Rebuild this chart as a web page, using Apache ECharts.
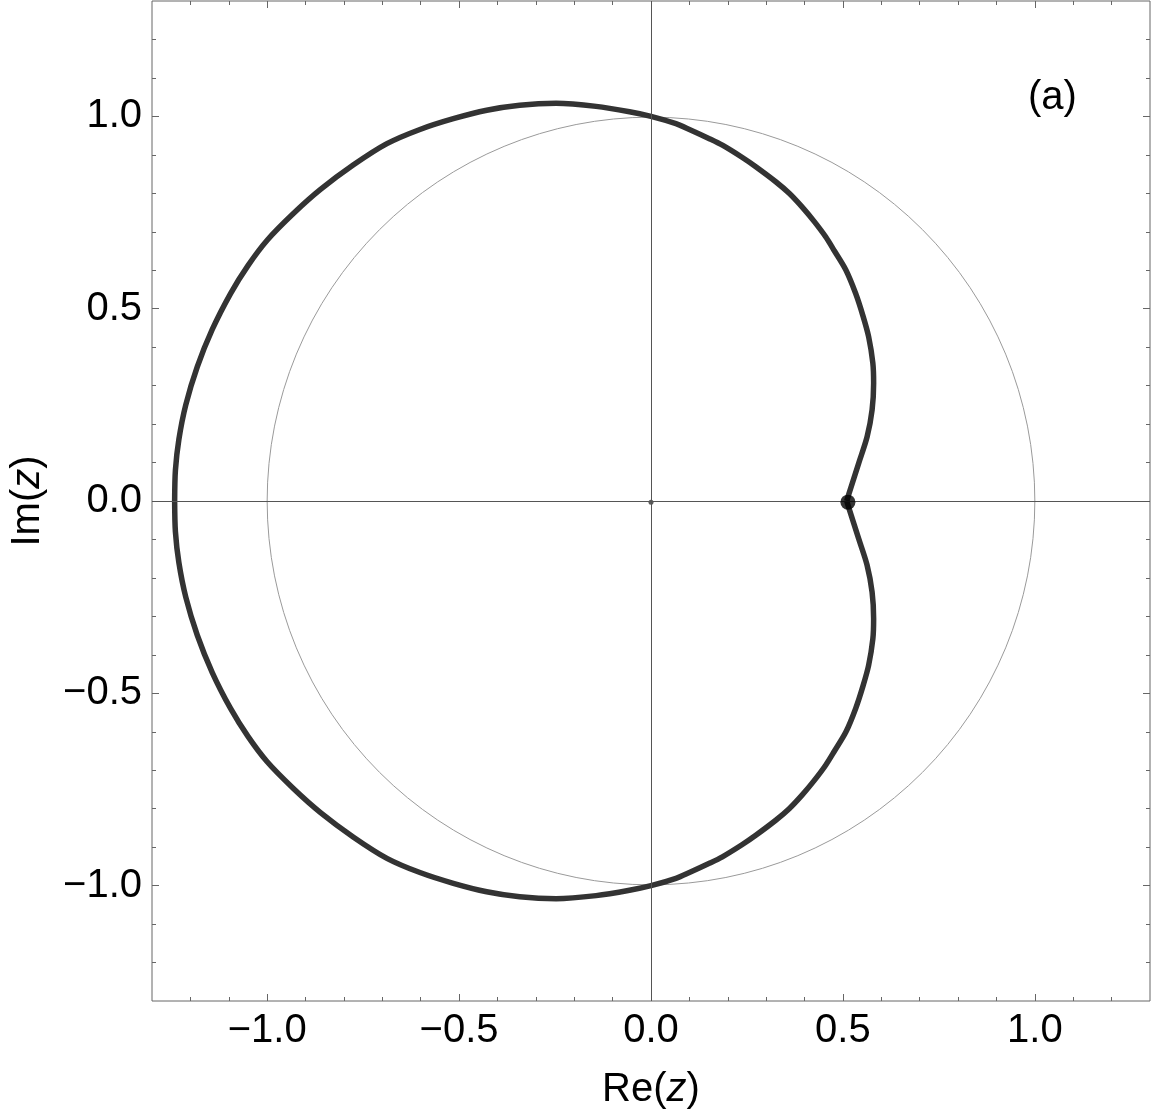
<!DOCTYPE html>
<html><head><meta charset="utf-8">
<script src="https://cdn.jsdelivr.net/npm/echarts@6/dist/echarts.min.js"></script>
<style>html,body{margin:0;padding:0;background:#fff}#c{width:1152px;height:1118px}</style>
</head><body><div id="c"></div>
<script>
// Boundary curve, upper half (from cusp, counter-clockwise to the negative real axis)
const upperRe = [0.510, 0.516, 0.541, 0.563, 0.576, 0.580, 0.578, 0.567, 0.552, 0.533, 0.508, 0.478, 0.455, 0.425, 0.394, 0.360, 0.325, 0.273, 0.238, 0.186, 0.152, 0.100, 0.065, 0.000, -0.056, -0.143, -0.247, -0.342, -0.428, -0.515, -0.602, -0.688, -0.775, -0.861, -0.931, -1.000, -1.050, -1.095, -1.143, -1.182, -1.212, -1.230, -1.239, -1.241];
const upperIm = [0.000, 0.020, 0.098, 0.167, 0.237, 0.306, 0.358, 0.427, 0.482, 0.540, 0.600, 0.650, 0.687, 0.727, 0.764, 0.800, 0.830, 0.869, 0.893, 0.925, 0.942, 0.966, 0.981, 1.000, 1.012, 1.026, 1.034, 1.029, 1.016, 0.994, 0.966, 0.929, 0.874, 0.810, 0.748, 0.678, 0.612, 0.540, 0.446, 0.349, 0.250, 0.160, 0.080, 0.000];
// Boundary curve, lower half (from cusp, clockwise to the negative real axis)
const lowerRe = [0.510, 0.516, 0.541, 0.563, 0.576, 0.580, 0.578, 0.567, 0.552, 0.533, 0.508, 0.478, 0.455, 0.425, 0.394, 0.360, 0.325, 0.273, 0.238, 0.186, 0.152, 0.100, 0.065, 0.000, -0.056, -0.143, -0.247, -0.342, -0.428, -0.515, -0.602, -0.688, -0.775, -0.861, -0.931, -1.000, -1.050, -1.095, -1.143, -1.182, -1.212, -1.230, -1.239, -1.241];
const lowerIm = [0.000, -0.020, -0.098, -0.167, -0.237, -0.306, -0.358, -0.427, -0.482, -0.540, -0.600, -0.650, -0.687, -0.727, -0.764, -0.800, -0.830, -0.869, -0.893, -0.925, -0.942, -0.966, -0.981, -1.000, -1.012, -1.026, -1.034, -1.029, -1.016, -0.994, -0.966, -0.929, -0.874, -0.810, -0.748, -0.678, -0.612, -0.540, -0.446, -0.349, -0.250, -0.160, -0.080, 0.000];
const cuspPoint = [[0.513, -0.003]];
const originPoint = [[0.0, -0.003]];
const unitCircle = [[0, 0, 1]]; // centre Re, centre Im, radius
const majorTicks = [-1.0, -0.5, 0.0, 0.5, 1.0];
const minorTicks = [-1.2, -1.1, -0.9, -0.8, -0.7, -0.6, -0.4, -0.3, -0.2, -0.1, 0.1, 0.2, 0.3, 0.4, 0.6, 0.7, 0.8, 0.9, 1.1, 1.2];
const axisRange = [-1.3, 1.3];

const FONT = '"Liberation Sans", Arial, sans-serif';
const toPairs = (a, b) => a.map((v, i) => [v, b[i]]);
const fmt = v => (v < 0 ? '\u2212' : '') + Math.abs(v).toFixed(1);

function mkAxis(pos, ticks, len, withLabels, extra) {
  return Object.assign({
    type: 'value', min: axisRange[0], max: axisRange[1], position: pos,
    axisLine: { show: false, onZero: false }, splitLine: { show: false },
    axisTick: { show: true, inside: true, length: len, customValues: ticks, lineStyle: { color: '#666', width: 1 } },
    axisLabel: withLabels ? { show: true, customValues: ticks, formatter: fmt, fontSize: 40, fontFamily: FONT, color: '#000', margin: 10 } : { show: false }
  }, extra || {});
}

const chart = echarts.init(document.getElementById('c'), null, { renderer: 'canvas' });
chart.setOption({
  animation: false,
  grid: { left: 150, right: 2, top: 1, bottom: 117, show: true, borderColor: '#666', borderWidth: 1, backgroundColor: 'transparent' },
  xAxis: [
    mkAxis('bottom', majorTicks, 7, true, {
      name: 'Re({i|z})', nameLocation: 'middle', nameGap: 69,
      nameTextStyle: { fontSize: 40, fontFamily: FONT, color: '#000', rich: { i: { fontSize: 40, fontFamily: FONT, fontStyle: 'italic', color: '#000' } } }
    }),
    mkAxis('bottom', minorTicks, 4, false),
    mkAxis('top', majorTicks, 7, false),
    mkAxis('top', minorTicks, 4, false)
  ],
  yAxis: [
    mkAxis('left', majorTicks, 7, true, {
      name: 'Im({i|z})', nameLocation: 'middle', nameGap: 104, nameRotate: 90,
      nameTextStyle: { fontSize: 40, fontFamily: FONT, color: '#000', rich: { i: { fontSize: 40, fontFamily: FONT, fontStyle: 'italic', color: '#000' } } }
    }),
    mkAxis('left', minorTicks, 4, false),
    mkAxis('right', majorTicks, 7, false),
    mkAxis('right', minorTicks, 4, false)
  ],
  graphic: [{
    type: 'text', left: 1028, top: 78,
    style: { text: '(a)', fontSize: 40, fontFamily: FONT, fill: '#000' }
  }],
  series: [
    {
      type: 'line', data: [], z: 1, silent: true,
      markLine: {
        silent: true, symbol: 'none', animation: false,
        label: { show: false },
        lineStyle: { color: '#555', width: 1, type: 'solid' },
        data: [{ xAxis: 0 }, { yAxis: 0 }]
      }
    },
    {
      type: 'custom', z: 2, silent: true,
      data: unitCircle,
      encode: { x: 0, y: 1 },
      renderItem: function (params, api) {
        const c = api.coord([api.value(0), api.value(1)]);
        const r = api.size([api.value(2), 0])[0];
        return { type: 'circle', shape: { cx: c[0], cy: c[1], r: r }, style: { fill: null, stroke: '#9a9a9a', lineWidth: 1 } };
      }
    },
    {
      type: 'line', z: 3, data: toPairs(upperRe, upperIm), smooth: 0.3, showSymbol: false,
      lineStyle: { color: '#333', width: 5.5 }
    },
    {
      type: 'line', z: 3, data: toPairs(lowerRe, lowerIm), smooth: 0.3, showSymbol: false,
      lineStyle: { color: '#333', width: 5.5 }
    },
    {
      type: 'scatter', z: 4, data: originPoint, symbolSize: 5,
      itemStyle: { color: '#333' }
    },
    {
      type: 'scatter', z: 5, data: cuspPoint, symbolSize: 15,
      itemStyle: { color: '#000' }
    }
  ]
});
</script>
</body></html>
